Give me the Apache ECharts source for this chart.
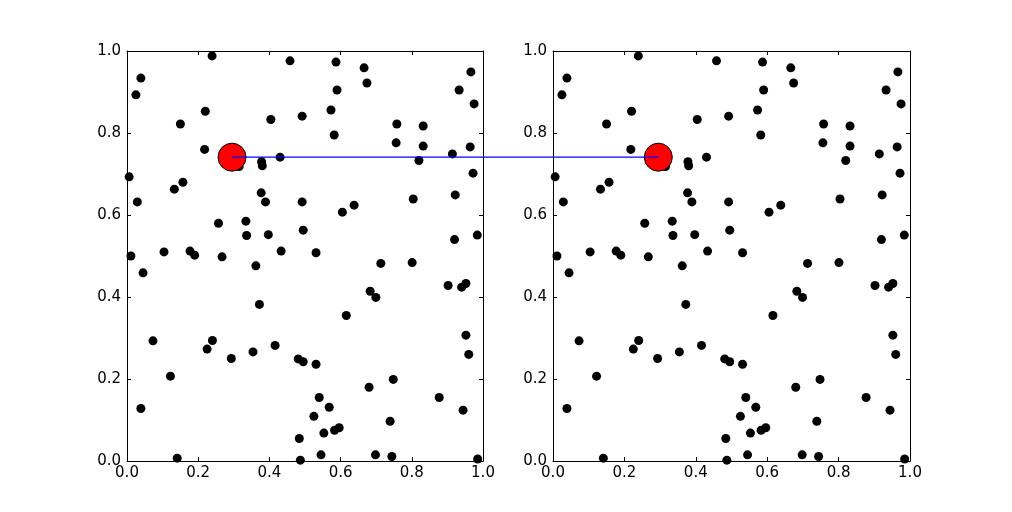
<!DOCTYPE html>
<html>
<head>
<meta charset="utf-8">
<script src="https://cdn.jsdelivr.net/npm/echarts@6/dist/echarts.min.js"></script>
<style>
  html, body { margin: 0; padding: 0; background: #fff; }
  #chart1 { width: 1012px; height: 512px; }
</style>
</head>
<body>
<div id="chart1"></div>
<script>
function $(_) {return document.getElementById(_);}

// scatter values (same set drawn in both panels)
const xs = [0.239,0.458,0.587,0.666,0.966,0.039,0.590,0.933,0.674,0.025,
            0.975,0.573,0.220,0.492,0.404,0.150,0.758,0.832,0.582,0.756,
            0.832,0.964,0.218,0.914,0.430,0.820,0.378,0.380,0.295,0.006,
            0.972,0.377,0.389,0.492,0.157,0.133,0.029,0.804,0.922,0.638,
            0.605,0.257,0.334,0.336,0.397,0.495,0.920,0.984,0.104,0.011,
            0.177,0.190,0.267,0.362,0.433,0.045,0.531,0.713,0.801,0.683,
            0.699,0.902,0.940,0.952,0.616,0.372,0.952,0.960,0.073,0.240,
            0.225,0.293,0.354,0.416,0.481,0.495,0.531,0.122,0.748,0.680,
            0.877,0.944,0.039,0.540,0.568,0.525,0.739,0.596,0.583,0.553,
            0.484,0.141,0.487,0.545,0.698,0.744,0.985,0.315];
const ys = [0.988,0.976,0.973,0.959,0.949,0.934,0.905,0.905,0.922,0.893,
            0.871,0.856,0.853,0.841,0.833,0.822,0.822,0.817,0.795,0.776,
            0.768,0.766,0.760,0.749,0.741,0.733,0.730,0.720,0.741,0.693,
            0.702,0.654,0.632,0.632,0.680,0.663,0.632,0.639,0.649,0.624,
            0.607,0.580,0.585,0.550,0.552,0.563,0.540,0.551,0.510,0.500,
            0.512,0.502,0.498,0.476,0.512,0.459,0.508,0.482,0.484,0.414,
            0.399,0.428,0.424,0.433,0.355,0.382,0.307,0.260,0.293,0.294,
            0.273,0.250,0.266,0.282,0.249,0.242,0.236,0.207,0.199,0.180,
            0.155,0.124,0.128,0.155,0.131,0.109,0.097,0.081,0.075,0.068,
            0.055,0.007,0.002,0.015,0.015,0.011,0.005,0.718];

// highlighted point (red marker, joined across panels)
const hlX = 0.295;
const hlY = 0.741;

const pts = xs.map((x, i) => [x, ys[i]]);

const font = 'DejaVu Sans';

function xAx(grid, pos, labels) {
  return {
    type: 'value', gridIndex: grid, position: pos, min: 0, max: 1, interval: 0.2,
    axisLine: { show: true, onZero: false, lineStyle: { color: '#000', width: 1 } },
    axisTick: { show: true, inside: true, length: 4, lineStyle: { color: '#000' } },
    axisLabel: { show: labels, color: '#000', fontFamily: font, fontSize: 15, margin: 5,
                 formatter: v => v.toFixed(1) },
    splitLine: { show: false }
  };
}
function yAx(grid, pos, labels) {
  return {
    type: 'value', gridIndex: grid, position: pos, min: 0, max: 1, interval: 0.2,
    axisLine: { show: true, onZero: false, lineStyle: { color: '#000', width: 1 } },
    axisTick: { show: true, inside: true, length: 4, lineStyle: { color: '#000' } },
    axisLabel: { show: labels, color: '#000', fontFamily: font, fontSize: 15, margin: 6,
                 formatter: v => v.toFixed(1) },
    splitLine: { show: false }
  };
}

function dots(ax) {
  return {
    type: 'scatter', xAxisIndex: ax, yAxisIndex: ax, data: pts,
    symbolSize: 9, itemStyle: { color: '#000', opacity: 1 }, z: 2, silent: true
  };
}
function red(ax) {
  return {
    type: 'scatter', xAxisIndex: ax, yAxisIndex: ax, data: [[hlX, hlY]],
    symbolSize: 28, itemStyle: { color: '#ff0000', borderColor: '#000', borderWidth: 1, opacity: 1 },
    z: 3, silent: true
  };
}

echart1 = echarts.init($('chart1'), null, { renderer: 'canvas' });

option = {
  animation: false,
  backgroundColor: '#fff',
  grid: [
    { left: 127, top: 51, width: 356, height: 410 },
    { left: 553, top: 51, width: 357, height: 410 }
  ],
  xAxis: [ xAx(0, 'bottom', true), xAx(0, 'top', false), xAx(1, 'bottom', true), xAx(1, 'top', false) ],
  yAxis: [ yAx(0, 'left', true), yAx(0, 'right', false), yAx(1, 'left', true), yAx(1, 'right', false) ],
  series: [ dots(0), red(0), dots(2), red(2) ]
};

echart1.setOption(option);

// connection line between the highlighted point in both panels
const p1 = echart1.convertToPixel({ xAxisIndex: 0, yAxisIndex: 0 }, [hlX, hlY]);
const p2 = echart1.convertToPixel({ xAxisIndex: 2, yAxisIndex: 2 }, [hlX, hlY]);
echart1.setOption({
  graphic: [{
    type: 'line', z: 100,
    shape: { x1: p1[0], y1: p1[1], x2: p2[0], y2: p2[1] },
    style: { stroke: '#0000ff', lineWidth: 1.3 }
  }]
});
</script>
</body>
</html>
